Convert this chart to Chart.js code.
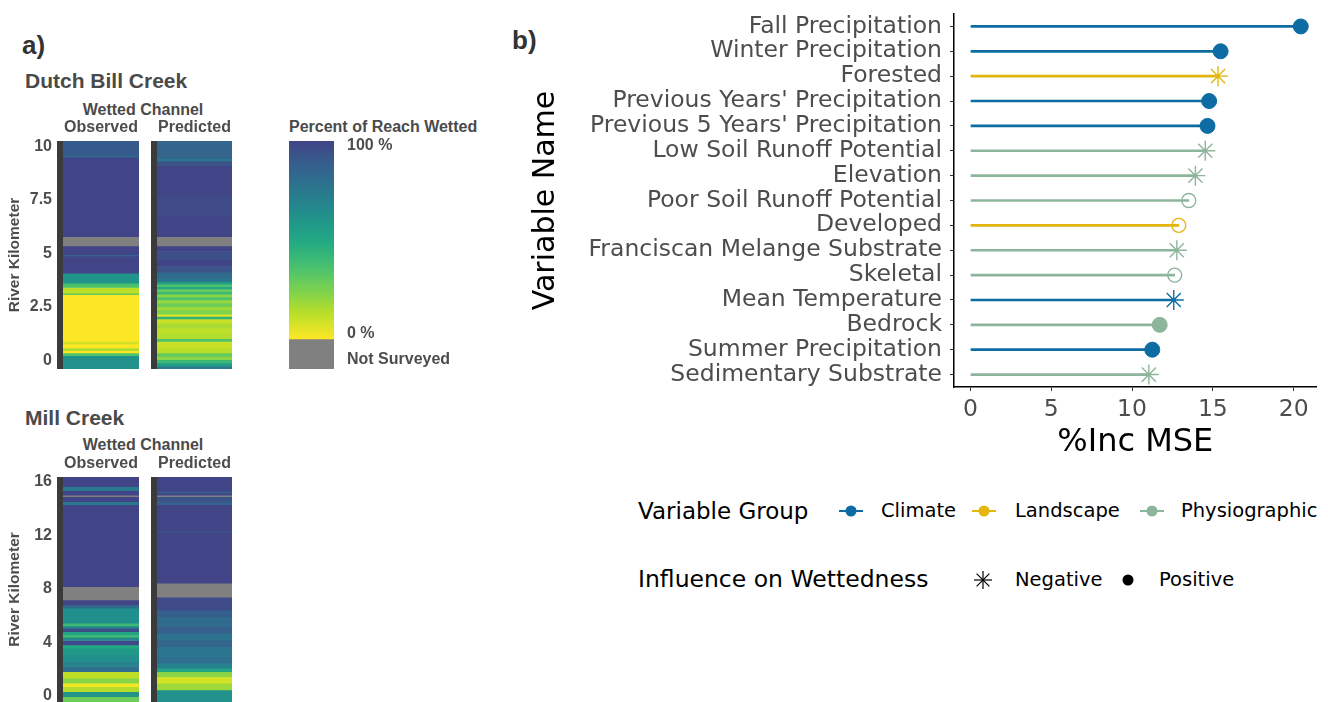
<!DOCTYPE html>
<html lang="en">
<head>
<meta charset="UTF-8">
<title>Wetted channel and variable importance</title>
<script src="https://cdn.jsdelivr.net/npm/chart.js@4.4.1/dist/chart.umd.min.js"></script>
<style>
  body { margin: 0; width: 1328px; height: 702px; overflow: hidden; background: #fff; position: relative;
         font-family: "Liberation Sans", Arial, sans-serif; }
  canvas { position: absolute; }
  .lbl { position: absolute; white-space: nowrap; line-height: 1; transform: translateY(-50%); }
  .bold { font-weight: bold; }
  .mid { transform: translate(-50%, -50%); }
  .leg { font-family: "DejaVu Sans", sans-serif; color: #000; }
  svg { position: absolute; overflow: visible; }
</style>
</head>
<body>
<div class="lbl bold" style="left:22px;top:45px;font-size:26px;color:#333">a)</div>
<div class="lbl bold" style="left:512px;top:40px;font-size:26px;color:#333">b)</div>

<div class="lbl bold" style="left:25px;top:80px;font-size:21px;color:#4a4a4a">Dutch Bill Creek</div>
<div class="lbl bold mid" style="left:143px;top:110px;font-size:16px;color:#4a4a4a">Wetted Channel</div>
<div class="lbl bold" style="left:289px;top:127px;font-size:16px;color:#4a4a4a">Percent of Reach Wetted</div>
<div class="lbl bold" style="left:25px;top:417px;font-size:21px;color:#4a4a4a">Mill Creek</div>
<div class="lbl bold mid" style="left:143px;top:445px;font-size:16px;color:#4a4a4a">Wetted Channel</div>

<canvas id="dbObs" width="139" height="258" style="left:0;top:111px"></canvas>
<canvas id="dbPred" width="81" height="258" style="left:151px;top:111px"></canvas>
<canvas id="cbar" width="205" height="258" style="left:289px;top:131px"></canvas>
<canvas id="millObs" width="139" height="255" style="left:0;top:447px"></canvas>
<canvas id="millPred" width="81" height="255" style="left:151px;top:447px"></canvas>
<canvas id="imp" width="804" height="466" style="left:524px;top:0"></canvas>
<div id="legend"></div>

<script>
// ---- panel a data: segment breaks (river km, top to bottom) and percent wetted (null = not surveyed)
const dbKm = [-0.39, 10.24];
const dbTicks = [0, 2.5, 5, 7.5, 10];
const dbObsBreaks = [10.24, 9.58, 9.49, 5.78, 5.35, 4.93, 4.88, 4.08, 3.61, 3.41, 3.15, 3.07, 0.90, 0.78, 0.59, 0.47, 0.36, 0.23, -0.39];
const dbObsWet    = [90, 84, 100, null, 100, 82, 100, 60, 36, 12, 30, 0, 8, 0, 15, 0, 35, 62];
const dbPredBreaks = [10.24, 9.43, 9.31, 9.08, 7.72, 6.8, 5.78, 5.35, 5.09, 4.70, 4.39, 4.12, 3.84, 3.68, 3.56, 3.45, 3.34, 3.22, 3.10, 2.97, 2.83, 2.68, 2.52, 2.37, 2.17, 2.06, 1.95, 1.75, 1.51, 1.28, 1.02, 0.90, 0.59, 0.36, 0.20, 0.05, -0.11, -0.26, -0.39];
const dbPredWet    = [85, 75, 93, 100, 97, 99, null, 100, 95, 100, 93, 82, 75, 55, 35, 50, 30, 40, 22, 35, 20, 28, 18, 24, 6, 45, 10, 16, 12, 14, 35, 10, 13, 30, 22, 40, 55, 75];

const millKm = [-0.45, 16.35];
const millTicks = [0, 4, 8, 12, 16];
const millObsBreaks = [16.35, 15.63, 15.33, 15.0, 14.88, 14.51, 14.28, 8.17, 7.17, 6.80, 6.55, 5.43, 5.23, 5.06, 4.81, 4.56, 4.39, 4.14, 3.82, 3.57, 3.07, 2.57, 2.20, 1.82, 1.33, 0.95, 0.70, 0.32, -0.05, -0.45];
const millObsWet    = [100, 75, 100, null, 100, 75, 100, null, 100, 82, 63, 40, 66, 95, 52, 38, 66, 98, 50, 58, 63, 70, 80, 12, 22, 2, 14, 60, 28];
const millPredBreaks = [16.35, 15.3, 15.15, 15.0, 14.88, 14.51, 14.28, 12.35, 12.2, 8.42, 7.37, 6.43, 5.93, 5.18, 4.69, 4.19, 3.69, 2.94, 2.45, 2.07, 1.82, 1.45, 0.95, 0.45, -0.45];
const millPredWet    = [100, 90, 100, null, 93, 88, 100, 95, 100, null, 97, 88, 82, 88, 78, 85, 76, 80, 70, 52, 22, 8, 18, 62];

// colour bar legend
const cbRange = [-19, 102.5];
const cbGradient = [-3, 102.5];
const cbGrey = [-19, -3];
const cbTickValues = [100, 0, -14];
const cbTickLabels = ['100 %', '0 %', 'Not Surveyed'];

// ---- panel b data
const varNames = ['Fall Precipitation', 'Winter Precipitation', 'Forested', "Previous Years' Precipitation",
  "Previous 5 Years' Precipitation", 'Low Soil Runoff Potential', 'Elevation', 'Poor Soil Runoff Potential',
  'Developed', 'Franciscan Melange Substrate', 'Skeletal', 'Mean Temperature', 'Bedrock',
  'Summer Precipitation', 'Sedimentary Substrate'];
const incMSE = [20.44, 15.48, 15.32, 14.77, 14.67, 14.53, 13.92, 13.51, 12.89, 12.77, 12.64, 12.58, 11.71, 11.25, 11.04];
const varGroup = ['Climate', 'Climate', 'Landscape', 'Climate', 'Climate', 'Physiographic', 'Physiographic',
  'Physiographic', 'Landscape', 'Physiographic', 'Physiographic', 'Climate', 'Physiographic', 'Climate', 'Physiographic'];
const influence = ['Positive', 'Positive', 'Negative', 'Positive', 'Positive', 'Negative', 'Negative',
  'None', 'None', 'Negative', 'None', 'Negative', 'Positive', 'Positive', 'Negative'];
const xTicks = [0, 5, 10, 15, 20];
const groupNames = ['Climate', 'Landscape', 'Physiographic'];
const influenceNames = ['Negative', 'Positive'];

const groupColors = { Climate: '#0c6ca3', Landscape: '#e2b60c', Physiographic: '#8db59b' };
const NOT_SURVEYED = '#808080';
const GREY30 = '#4d4d4d';

Chart.defaults.font.family = '"Liberation Sans", Arial, sans-serif';
Chart.defaults.color = GREY30;

// viridis(11)
const viridisStops = ['#440154', '#482576', '#414487', '#35608d', '#2a788e', '#21908c',
  '#22a884', '#43bf71', '#7ad151', '#bbdf27', '#fde725'];
function hexToRgb(h) {
  return [parseInt(h.slice(1, 3), 16), parseInt(h.slice(3, 5), 16), parseInt(h.slice(5, 7), 16)];
}
function viridis(t) {
  t = Math.max(0, Math.min(1, t));
  const s = t * 10;
  const i = Math.min(9, Math.floor(s));
  const f = s - i;
  const a = hexToRgb(viridisStops[i]), b = hexToRgb(viridisStops[i + 1]);
  return 'rgb(' + a.map((v, k) => Math.round(v + (b[k] - v) * f)).join(',') + ')';
}
// 100 % wetted -> dark blue, 0 % -> yellow
function wetColor(p) {
  return p === null ? NOT_SURVEYED : viridis(0.2 + 0.8 * (1 - p / 100));
}

// no extra room for half tick labels at the ends of an axis
function noEdgePadding(s) {
  s.paddingTop = 0; s.paddingBottom = 0; s.paddingLeft = 0; s.paddingRight = 0;
}

// dark rail drawn on the left of each strip
const rail = {
  id: 'rail',
  beforeDatasetsDraw(chart) {
    const a = chart.chartArea, ctx = chart.ctx;
    ctx.save();
    ctx.fillStyle = '#3b3b3b';
    ctx.fillRect(a.left - 6, a.top, 6, a.bottom - a.top);
    ctx.restore();
  }
};

function stripChart(id, label, breaks, wet, range, ticks, showAxis) {
  const datasets = wet.map((p, i) => ({
    data: [[breaks[i + 1], breaks[i]]],
    backgroundColor: wetColor(p),
    borderWidth: 0,
    grouped: false,
    barPercentage: 1,
    categoryPercentage: 1
  }));
  new Chart(document.getElementById(id), {
    type: 'bar',
    data: { labels: [label], datasets: datasets },
    options: {
      responsive: false,
      animation: false,
      layout: { padding: { left: showAxis ? 0 : 6, top: 0, right: 0, bottom: 0 } },
      plugins: { legend: { display: false }, tooltip: { enabled: false } },
      scales: {
        x: {
          position: 'top',
          grid: { display: false, drawTicks: false },
          border: { display: false },
          ticks: { padding: 4, font: { size: 16, weight: 'bold' }, color: GREY30 },
          afterFit: s => { s.height = 30; noEdgePadding(s); }
        },
        y: {
          display: showAxis,
          min: range[0],
          max: range[1],
          grid: { display: false, drawTicks: false },
          border: { display: false },
          afterBuildTicks: s => { s.ticks = ticks.map(v => ({ value: v })); },
          afterFit: s => { s.width = showAxis ? 63 : 0; noEdgePadding(s); },
          ticks: { padding: 11, font: { size: 16, weight: 'bold' }, color: GREY30, callback: v => String(v) },
          title: {
            display: true, text: 'River Kilometer', color: GREY30,
            font: { size: 15.5, weight: 'bold' }, padding: { top: 5, bottom: 4 }
          }
        }
      }
    },
    plugins: [rail]
  });
}

stripChart('dbObs', 'Observed', dbObsBreaks, dbObsWet, dbKm, dbTicks, true);
stripChart('dbPred', 'Predicted', dbPredBreaks, dbPredWet, dbKm, dbTicks, false);
stripChart('millObs', 'Observed', millObsBreaks, millObsWet, millKm, millTicks, true);
stripChart('millPred', 'Predicted', millPredBreaks, millPredWet, millKm, millTicks, false);

// colour bar
function cbFill(context) {
  const chart = context.chart;
  if (!chart.chartArea) return NOT_SURVEYED;
  const y = chart.scales.y;
  const g = chart.ctx.createLinearGradient(0, y.getPixelForValue(cbGradient[1]), 0, y.getPixelForValue(cbGradient[0]));
  for (let i = 0; i <= 20; i++) g.addColorStop(i / 20, wetColor(100 - i * 5));
  return g;
}
new Chart(document.getElementById('cbar'), {
  type: 'bar',
  data: {
    labels: ['wet'],
    datasets: [
      { data: [cbGradient], backgroundColor: cbFill, borderWidth: 0, grouped: false, barPercentage: 1, categoryPercentage: 1 },
      { data: [cbGrey], backgroundColor: NOT_SURVEYED, borderWidth: 0, grouped: false, barPercentage: 1, categoryPercentage: 1 }
    ]
  },
  options: {
    responsive: false,
    animation: false,
    layout: { padding: { top: 10, bottom: 20, left: 0, right: 0 } },
    plugins: { legend: { display: false }, tooltip: { enabled: false } },
    scales: {
      x: { display: false, afterFit: noEdgePadding },
      y: {
        position: 'right',
        min: cbRange[0],
        max: cbRange[1],
        grid: { display: false, drawTicks: false },
        border: { display: false },
        afterBuildTicks: s => { s.ticks = cbTickValues.map(v => ({ value: v })); },
        afterFit: s => { s.width = 160; noEdgePadding(s); },
        ticks: {
          padding: 13, font: { size: 16, weight: 'bold' }, color: GREY30,
          callback: v => cbTickLabels[cbTickValues.indexOf(v)]
        }
      }
    }
  }
});

// ---- panel b: lollipop chart
const bFont = '"DejaVu Sans", sans-serif';
const colorsByRow = varGroup.map(g => groupColors[g]);
new Chart(document.getElementById('imp'), {
  type: 'bar',
  data: {
    labels: varNames,
    datasets: [
      {
        type: 'line',
        data: incMSE,
        showLine: false,
        order: 1,
        pointStyle: influence.map(s => s === 'Negative' ? 'star' : 'circle'),
        pointRadius: influence.map(s => s === 'Negative' ? 10 : s === 'Positive' ? 7.5 : 7),
        pointBorderWidth: influence.map(s => s === 'Positive' ? 1 : 1.4),
        pointBorderColor: colorsByRow,
        pointBackgroundColor: influence.map((s, i) => s === 'Positive' ? colorsByRow[i] : 'rgba(0,0,0,0)')
      },
      {
        type: 'bar',
        data: incMSE,
        order: 2,
        backgroundColor: colorsByRow,
        borderWidth: 0,
        barThickness: 2
      }
    ]
  },
  options: {
    indexAxis: 'y',
    responsive: false,
    animation: false,
    layout: { padding: { top: 14, right: 5, left: 0, bottom: 0 } },
    plugins: { legend: { display: false }, tooltip: { enabled: false } },
    scales: {
      x: {
        min: -1.02,
        max: 21.42,
        afterBuildTicks: s => { s.ticks = xTicks.map(v => ({ value: v })); },
        afterFit: s => { s.height = 79; noEdgePadding(s); },
        grid: { display: true, drawOnChartArea: false, drawTicks: true, tickLength: 4, color: '#333' },
        border: { display: true, color: '#000', width: 1.5 },
        ticks: { padding: 5, font: { family: bFont, size: 23.5 }, color: GREY30, callback: v => String(v) },
        title: { display: true, text: '%Inc MSE', color: '#000', font: { family: bFont, size: 32 } }
      },
      y: {
        offset: true,
        grid: { display: true, offset: false, drawOnChartArea: false, drawTicks: true, tickLength: 4, color: '#333' },
        border: { display: true, color: '#000', width: 1.5 },
        afterFit: s => { s.width = 430; noEdgePadding(s); },
        ticks: { autoSkip: false, padding: 8, font: { family: bFont, size: 23.5 }, color: GREY30 },
        title: { display: true, text: 'Variable Name', color: '#000', font: { family: bFont, size: 30 } }
      }
    }
  }
});

// ---- legend for panel b
const legend = document.getElementById('legend');
function addText(text, x, y, size) {
  const d = document.createElement('div');
  d.className = 'lbl leg';
  d.style.left = x + 'px';
  d.style.top = y + 'px';
  d.style.fontSize = size + 'px';
  d.textContent = text;
  legend.appendChild(d);
}
function addSvg(inner, x, y) {
  const ns = 'http://www.w3.org/2000/svg';
  const s = document.createElementNS(ns, 'svg');
  s.setAttribute('width', 24);
  s.setAttribute('height', 24);
  s.style.left = (x - 12) + 'px';
  s.style.top = (y - 12) + 'px';
  s.innerHTML = inner;
  legend.appendChild(s);
}
const row1 = 511, row2 = 580;
addText('Variable Group', 638, row1, 23);
const groupKeyX = [851, 984, 1152], groupTextX = [881, 1015, 1181];
groupNames.forEach((g, i) => {
  const c = groupColors[g];
  addSvg('<line x1="0" y1="12" x2="24" y2="12" stroke="' + c + '" stroke-width="2"/>' +
         '<circle cx="12" cy="12" r="5.5" fill="' + c + '"/>', groupKeyX[i], row1);
  addText(g, groupTextX[i], row1, 19.5);
});
addText('Influence on Wettedness', 638, row2, 23.5);
const inflKeyX = [983, 1128], inflTextX = [1015, 1159];
influenceNames.forEach((n, i) => {
  const shape = n === 'Negative'
    ? '<g stroke="#000" stroke-width="1.2"><line x1="3" y1="12" x2="21" y2="12"/><line x1="12" y1="3" x2="12" y2="21"/>' +
      '<line x1="5.6" y1="5.6" x2="18.4" y2="18.4"/><line x1="5.6" y1="18.4" x2="18.4" y2="5.6"/></g>'
    : '<circle cx="12" cy="12" r="5.5" fill="#000"/>';
  addSvg(shape, inflKeyX[i], row2);
  addText(n, inflTextX[i], row2, 19.5);
});
</script>
</body>
</html>
